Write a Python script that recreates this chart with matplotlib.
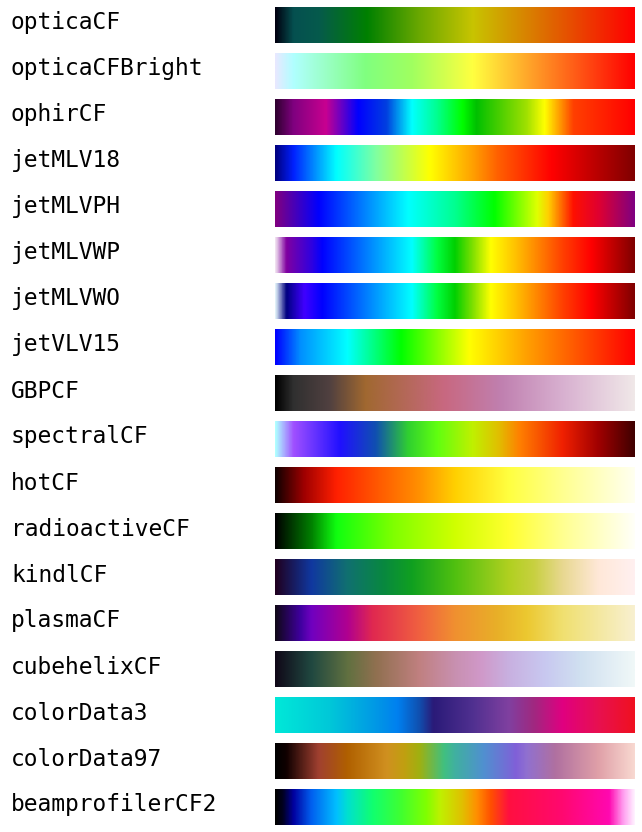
import numpy as np
import matplotlib
matplotlib.use("Agg")
import matplotlib.pyplot as plt
from matplotlib.colors import LinearSegmentedColormap

# colormap names, top to bottom
names = ["opticaCF", "opticaCFBright", "ophirCF", "jetMLV18", "jetMLVPH",
         "jetMLVWP", "jetMLVWO", "jetVLV15", "GBPCF", "spectralCF", "hotCF",
         "radioactiveCF", "kindlCF", "plasmaCF", "cubehelixCF", "colorData3",
         "colorData97", "beamprofilerCF2"]

# color stops (position along bar, colour)
opticaCF = [(0.0, "#000010"), (0.05, "#055050"), (0.12, "#065a4c"), (0.255, "#008000"),
            (0.4, "#6aa800"), (0.55, "#c8c400"), (0.77, "#e06400"), (1.0, "#ff0000")]
opticaCFBright = [(0.0, "#e8e8ff"), (0.05, "#b0ffff"), (0.25, "#80ff80"), (0.38, "#a0ff60"),
                  (0.55, "#ffff40"), (0.77, "#ff8020"), (1.0, "#ff0000")]
ophirCF = [(0.0, "#300030"), (0.05, "#800080"), (0.14, "#c80090"), (0.23, "#0000ff"),
           (0.31, "#0040e0"), (0.38, "#00ffff"), (0.45, "#00ff90"), (0.52, "#00ff00"),
           (0.56, "#00c000"), (0.7, "#a0e000"), (0.75, "#ffff00"), (0.83, "#ff4000"),
           (1.0, "#ff0000")]
jetMLV18 = [(0.0, "#000080"), (0.05, "#0020ff"), (0.17, "#00ffff"), (0.28, "#80ffa0"),
            (0.43, "#ffff00"), (0.55, "#ffa000"), (0.62, "#ff6000"), (0.77, "#ff0000"),
            (1.0, "#800000")]
jetMLVPH = [(0.0, "#800080"), (0.12, "#0000ff"), (0.37, "#00ffff"), (0.5, "#00ff90"),
            (0.61, "#00ff00"), (0.73, "#e0ff00"), (0.76, "#ffd000"), (0.83, "#ff1000"),
            (0.9, "#e00030"), (1.0, "#800080")]
jetMLVWP = [(0.0, "#f0e0f0"), (0.03, "#8000a0"), (0.1, "#3000e0"), (0.13, "#0000ff"),
            (0.38, "#00ffff"), (0.45, "#00ff40"), (0.5, "#00d000"), (0.55, "#80e000"),
            (0.6, "#ffff00"), (0.67, "#ffc000"), (0.8, "#ff4000"), (0.88, "#ff0000"),
            (1.0, "#800000")]
jetMLVWO = [(0.0, "#e0f0f8"), (0.03, "#000080"), (0.08, "#4000ff"), (0.13, "#0000ff"),
            (0.38, "#00ffff"), (0.45, "#00ff40"), (0.5, "#00d000"), (0.55, "#80e000"),
            (0.6, "#ffff00"), (0.67, "#ffc000"), (0.8, "#ff4000"), (0.88, "#ff0000"),
            (1.0, "#800000")]
jetVLV15 = [(0.0, "#0000ff"), (0.07, "#0090ff"), (0.2, "#00ffff"), (0.35, "#00ff00"),
            (0.54, "#ffff00"), (0.7, "#ffa000"), (1.0, "#ff0000")]
GBPCF = [(0.0, "#000000"), (0.05, "#303030"), (0.15, "#504040"), (0.25, "#a06830"),
         (0.47, "#c86880"), (0.63, "#c080b0"), (0.8, "#d8b0d0"), (1.0, "#f0e8e8")]
spectralCF = [(0.0, "#b0ffff"), (0.05, "#a050ff"), (0.18, "#2010ff"), (0.28, "#1050b0"),
              (0.37, "#30d030"), (0.45, "#60ff10"), (0.55, "#c0f000"), (0.62, "#e0c000"),
              (0.68, "#ff8000"), (0.8, "#f02000"), (0.9, "#a00000"), (1.0, "#400000")]
hotCF = [(0.0, "#100000"), (0.08, "#a00000"), (0.17, "#ff2000"), (0.3, "#ff6000"),
         (0.4, "#ff9000"), (0.5, "#ffd000"), (0.65, "#ffff40"), (0.8, "#ffff90"),
         (1.0, "#fffff0")]
radioactiveCF = [(0.0, "#000000"), (0.1, "#008000"), (0.17, "#10ff10"), (0.33, "#80ff00"),
                 (0.5, "#d0ff00"), (0.65, "#ffff30"), (0.8, "#ffff90"), (1.0, "#fffff8")]
kindlCF = [(0.0, "#200020"), (0.1, "#1038a0"), (0.2, "#107070"), (0.3, "#088840"),
           (0.38, "#10a020"), (0.5, "#50c010"), (0.65, "#b0d020"), (0.72, "#c8d040"),
           (0.8, "#e8d890"), (0.9, "#ffe8d8"), (1.0, "#fff0f0")]
plasmaCF = [(0.0, "#100818"), (0.07, "#4000a0"), (0.1, "#7000c0"), (0.2, "#b00090"),
            (0.27, "#e02850"), (0.4, "#f06040"), (0.5, "#f09030"), (0.62, "#e8b028"),
            (0.7, "#ecc830"), (0.8, "#f0e070"), (1.0, "#f8f0d0")]
cubehelixCF = [(0.0, "#100818"), (0.1, "#204840"), (0.2, "#607040"), (0.28, "#907050"),
               (0.4, "#c08080"), (0.5, "#c890b0"), (0.57, "#d098c8"), (0.65, "#c8b0e0"),
               (0.75, "#c8c8f0"), (0.85, "#d0e0f0"), (1.0, "#f0f8f8")]
colorData3 = [(0.0, "#00e8d8"), (0.15, "#00c8d8"), (0.3, "#0090e8"), (0.34, "#0080f0"),
              (0.4, "#1050b0"), (0.44, "#2a1a78"), (0.55, "#503090"), (0.65, "#8040a0"),
              (0.72, "#a02880"), (0.8, "#e00080"), (0.9, "#e81050"), (1.0, "#f01020")]
colorData97 = [(0.0, "#000000"), (0.03, "#100000"), (0.12, "#a04030"), (0.2, "#b06000"),
               (0.31, "#d09020"), (0.36, "#c0a010"), (0.4, "#a0b010"), (0.47, "#40c080"),
               (0.5, "#40b0a0"), (0.58, "#5090d0"), (0.67, "#8060d8"), (0.7, "#9070d0"),
               (0.78, "#b070a0"), (0.9, "#e0a0a8"), (1.0, "#f8d8d0")]
beamprofilerCF2 = [(0.0, "#000000"), (0.02, "#000020"), (0.05, "#0000a0"), (0.1, "#0060f0"),
                   (0.17, "#00c0ff"), (0.2, "#00e0d0"), (0.27, "#10ff70"), (0.35, "#40ff30"),
                   (0.42, "#80ff00"), (0.46, "#c0f000"), (0.52, "#e0c000"), (0.56, "#ff9000"),
                   (0.6, "#ff5000"), (0.65, "#ff1040"), (0.8, "#ff0870"), (0.93, "#ff08b0"),
                   (0.97, "#ffa0f0"), (1.0, "#fff0ff")]

stops = [opticaCF, opticaCFBright, ophirCF, jetMLV18, jetMLVPH, jetMLVWP, jetMLVWO,
         jetVLV15, GBPCF, spectralCF, hotCF, radioactiveCF, kindlCF, plasmaCF,
         cubehelixCF, colorData3, colorData97, beamprofilerCF2]

W, H = 642, 832
fig = plt.figure(figsize=(W / 100, H / 100), dpi=100)

gradient = np.linspace(0, 1, 512).reshape(1, -1)
x0, bw, bh, top, step = 275, 360, 36, 7, 46

for i, (name, st) in enumerate(zip(names, stops)):
    cmap = LinearSegmentedColormap.from_list(name, st)
    y = top + i * step
    ax = fig.add_axes([x0 / W, 1 - (y + bh) / H, bw / W, bh / H])
    ax.imshow(gradient, aspect="auto", cmap=cmap)
    ax.set_axis_off()
    fig.text(11 / W, 1 - (y + bh / 2 - 2) / H, name, fontsize=16.5,
             family="DejaVu Sans Mono", va="center", ha="left")

fig.savefig("out.png", dpi=100)
